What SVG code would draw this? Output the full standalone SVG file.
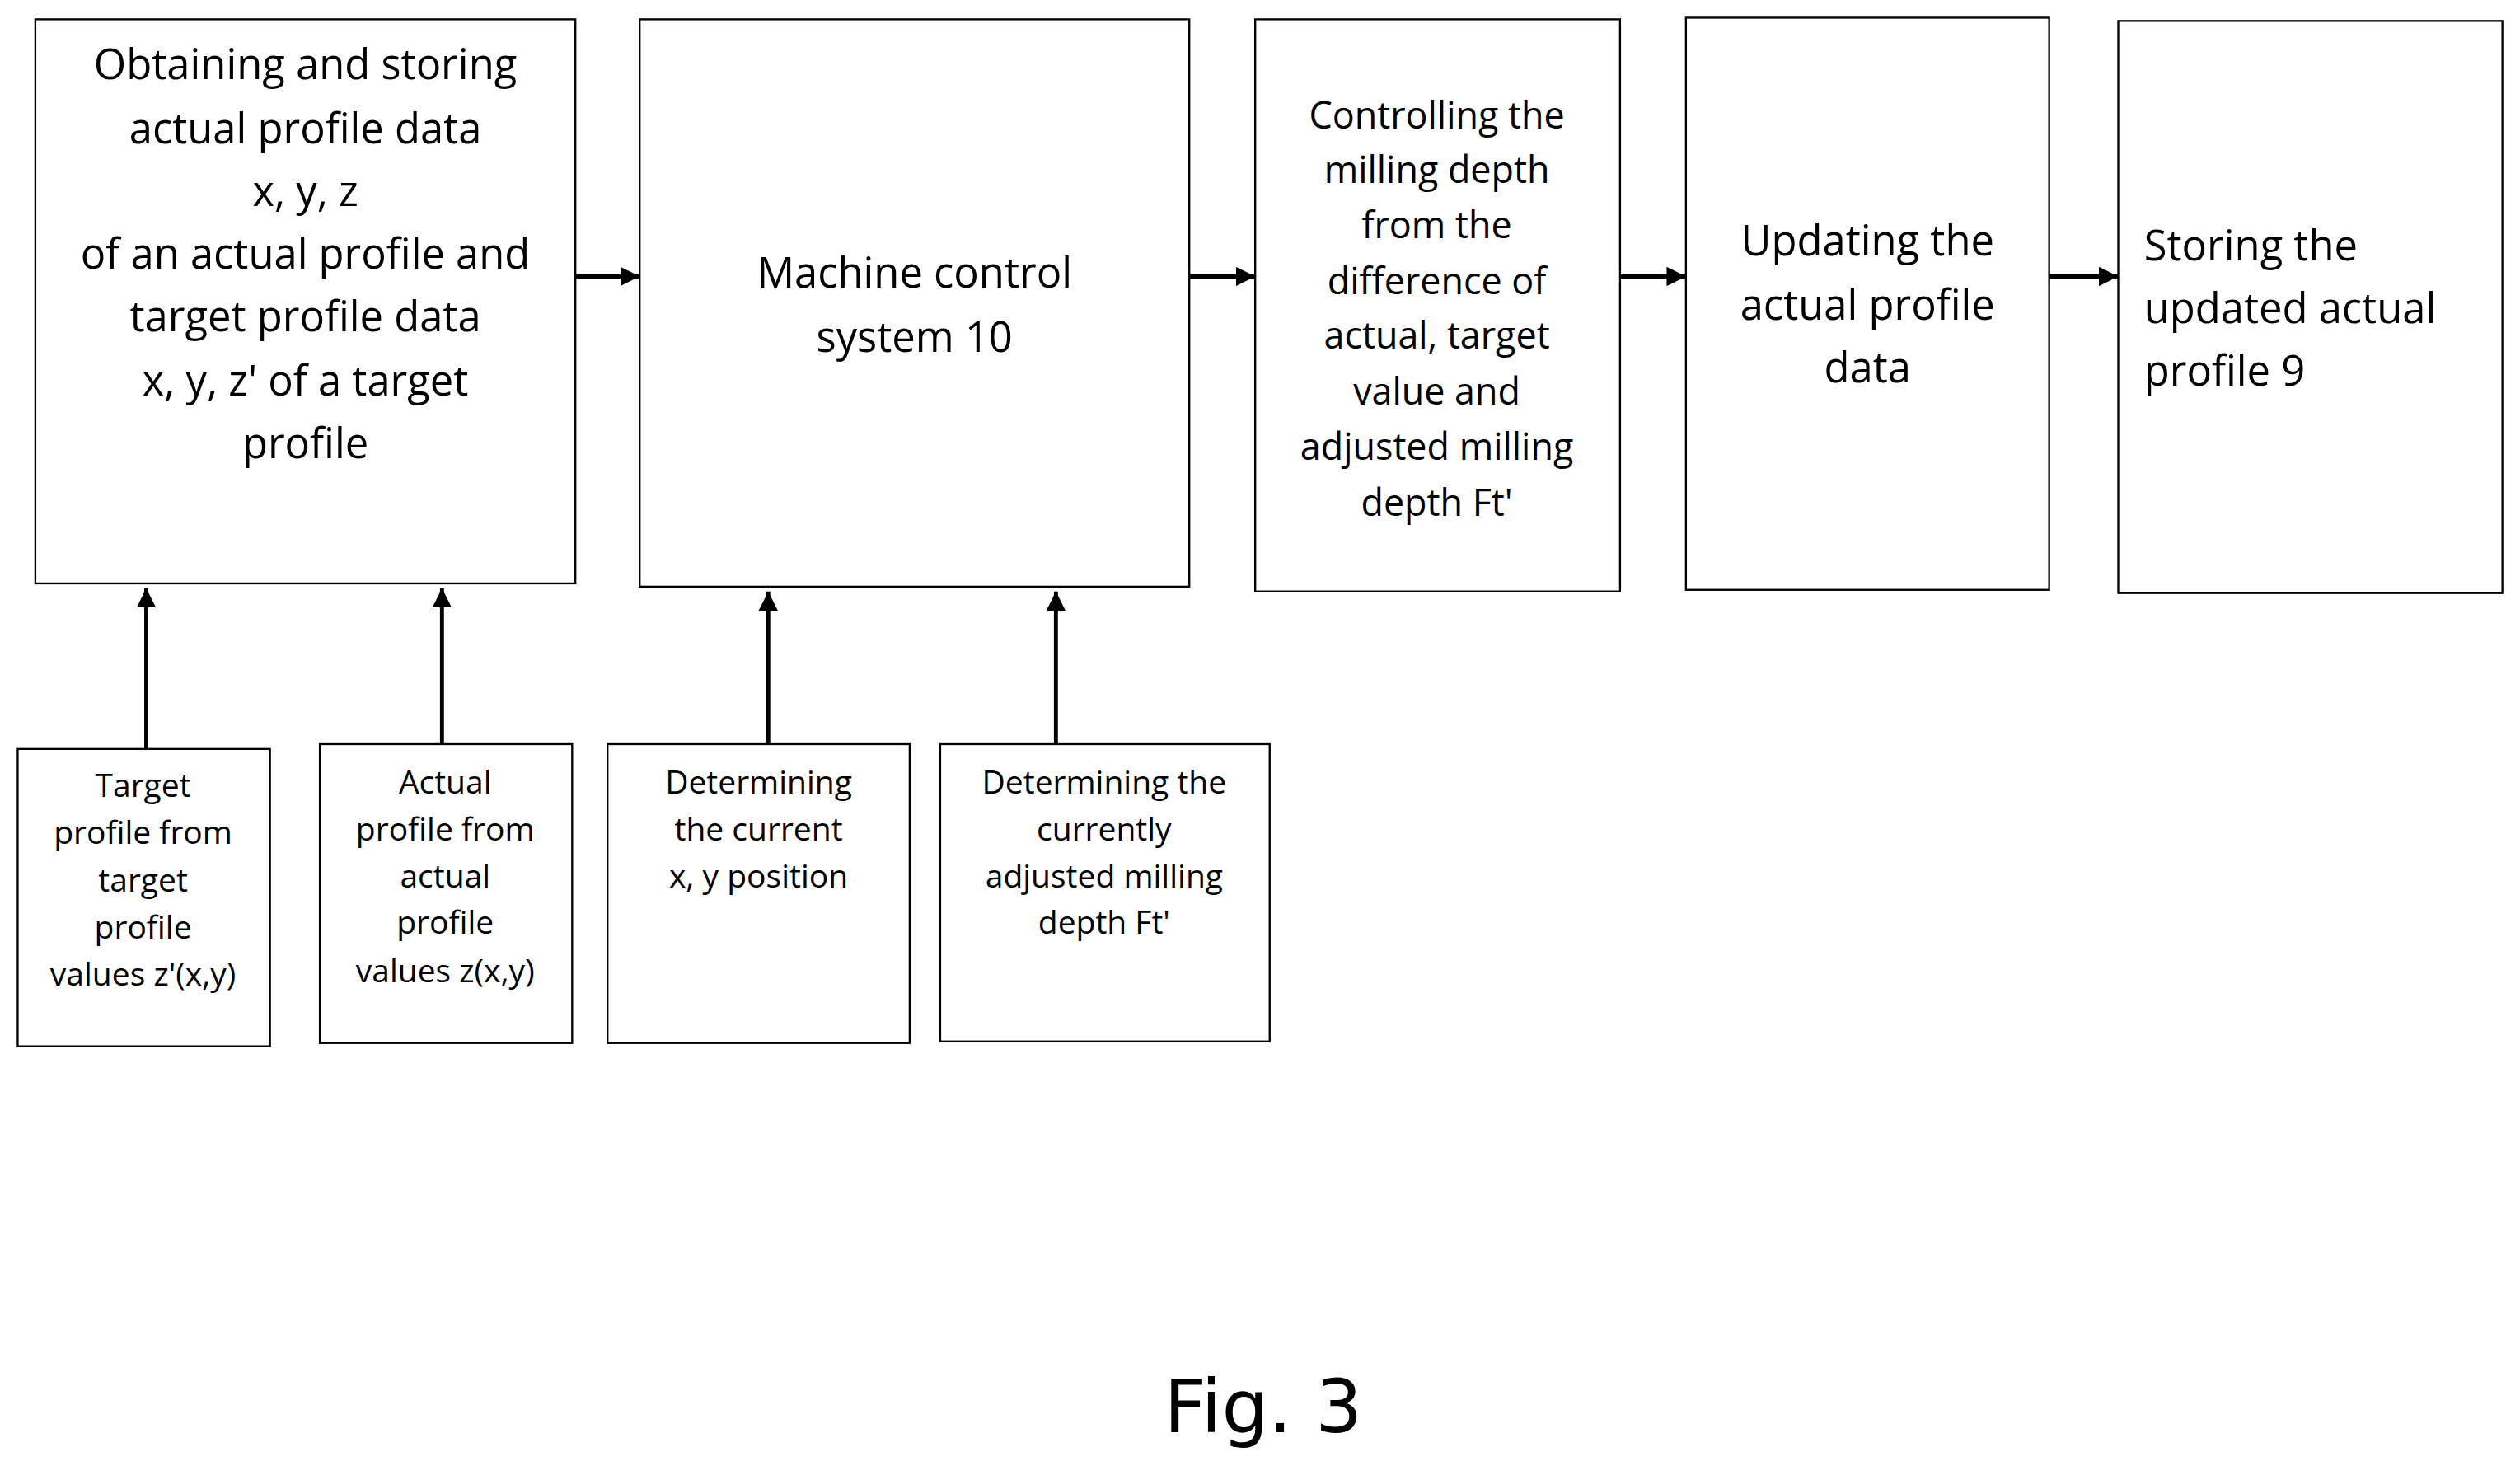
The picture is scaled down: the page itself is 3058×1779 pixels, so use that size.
<svg xmlns="http://www.w3.org/2000/svg" width="3058" height="1779" viewBox="0 0 3058 1779">
<style>
rect{fill:#fff;stroke:#000;stroke-width:1.2}
text{font-family:"Open Sans","Liberation Sans",sans-serif;fill:#000;text-anchor:middle}
.l{font-size:26px}.m{font-size:23px}.s{font-size:20px}
.c line{stroke:#000;stroke-width:2.5}
</style>
<defs><marker id="a" markerWidth="8" markerHeight="8" refX="7" refY="4" orient="auto" markerUnits="userSpaceOnUse"><path d="M0,0L8,4L0,8z" transform="scale(1)"/></marker>
<marker id="h" viewBox="0 0 10 10" refX="10" refY="5" markerWidth="12" markerHeight="12" orient="auto" markerUnits="userSpaceOnUse"><path d="M0,0L10,5L0,10z"/></marker></defs>
<rect x="0" y="0" width="3058" height="1779" style="stroke:none"/>
<g transform="scale(1.9503)">
<g id="n1"><rect x="22" y="12" width="336" height="351"/>
<text class="l"><tspan x="190" y="49">Obtaining and storing</tspan><tspan x="190" y="89">actual profile data</tspan><tspan x="190" y="128">x, y, z</tspan><tspan x="190" y="167">of an actual profile and</tspan><tspan x="190" y="206">target profile data</tspan><tspan x="190" y="246">x, y, z' of a target</tspan><tspan x="190" y="285">profile</tspan></text></g>
<g id="n2"><rect x="398" y="12" width="342" height="353"/>
<text class="l"><tspan x="569" y="179">Machine control</tspan><tspan x="569" y="219">system 10</tspan></text></g>
<g id="n3"><rect x="781" y="12" width="227" height="356"/>
<text class="m"><tspan x="894" y="80">Controlling the</tspan><tspan x="894" y="114">milling depth</tspan><tspan x="894" y="148">from the</tspan><tspan x="894" y="183">difference of</tspan><tspan x="894" y="217">actual, target</tspan><tspan x="894" y="252">value and</tspan><tspan x="894" y="286">adjusted milling</tspan><tspan x="894" y="321">depth Ft'</tspan></text></g>
<g id="n4"><rect x="1049" y="11" width="226" height="356"/>
<text class="l"><tspan x="1162" y="159">Updating the</tspan><tspan x="1162" y="199">actual profile</tspan><tspan x="1162" y="238">data</tspan></text></g>
<g id="n5"><rect x="1318" y="13" width="239" height="356"/>
<text class="l" style="text-anchor:start"><tspan x="1334" y="162">Storing the</tspan><tspan x="1334" y="201">updated actual</tspan><tspan x="1334" y="240">profile 9</tspan></text></g>
<g id="b1"><rect x="11" y="466" width="157" height="185"/>
<text class="s"><tspan x="89" y="496">Target</tspan><tspan x="89" y="525">profile from</tspan><tspan x="89" y="555">target</tspan><tspan x="89" y="584">profile</tspan><tspan x="89" y="613">values z'(x,y)</tspan></text></g>
<g id="b2"><rect x="199" y="463" width="157" height="186"/>
<text class="s"><tspan x="277" y="494">Actual</tspan><tspan x="277" y="523">profile from</tspan><tspan x="277" y="552">actual</tspan><tspan x="277" y="581">profile</tspan><tspan x="277" y="611">values z(x,y)</tspan></text></g>
<g id="b3"><rect x="378" y="463" width="188" height="186"/>
<text class="s"><tspan x="472" y="494">Determining</tspan><tspan x="472" y="523">the current</tspan><tspan x="472" y="552">x, y position</tspan></text></g>
<g id="b4"><rect x="585" y="463" width="205" height="185"/>
<text class="s"><tspan x="687" y="494">Determining the</tspan><tspan x="687" y="523">currently</tspan><tspan x="687" y="552">adjusted milling</tspan><tspan x="687" y="581">depth Ft'</tspan></text></g>
<g class="c">
<line x1="358" y1="172" x2="398" y2="172" marker-end="url(#h)"/>
<line x1="740" y1="172" x2="781" y2="172" marker-end="url(#h)"/>
<line x1="1008" y1="172" x2="1049" y2="172" marker-end="url(#h)"/>
<line x1="1275" y1="172" x2="1318" y2="172" marker-end="url(#h)"/>
<line x1="91" y1="466" x2="91" y2="366" marker-end="url(#h)"/>
<line x1="275" y1="463" x2="275" y2="366" marker-end="url(#h)"/>
<line x1="478" y1="463" x2="478" y2="368" marker-end="url(#h)"/>
<line x1="657" y1="463" x2="657" y2="368" marker-end="url(#h)"/>
</g>
<text x="786" y="891" style="font-family:'DejaVu Sans',sans-serif;font-size:46px">Fig. 3</text>
</g>
</svg>
